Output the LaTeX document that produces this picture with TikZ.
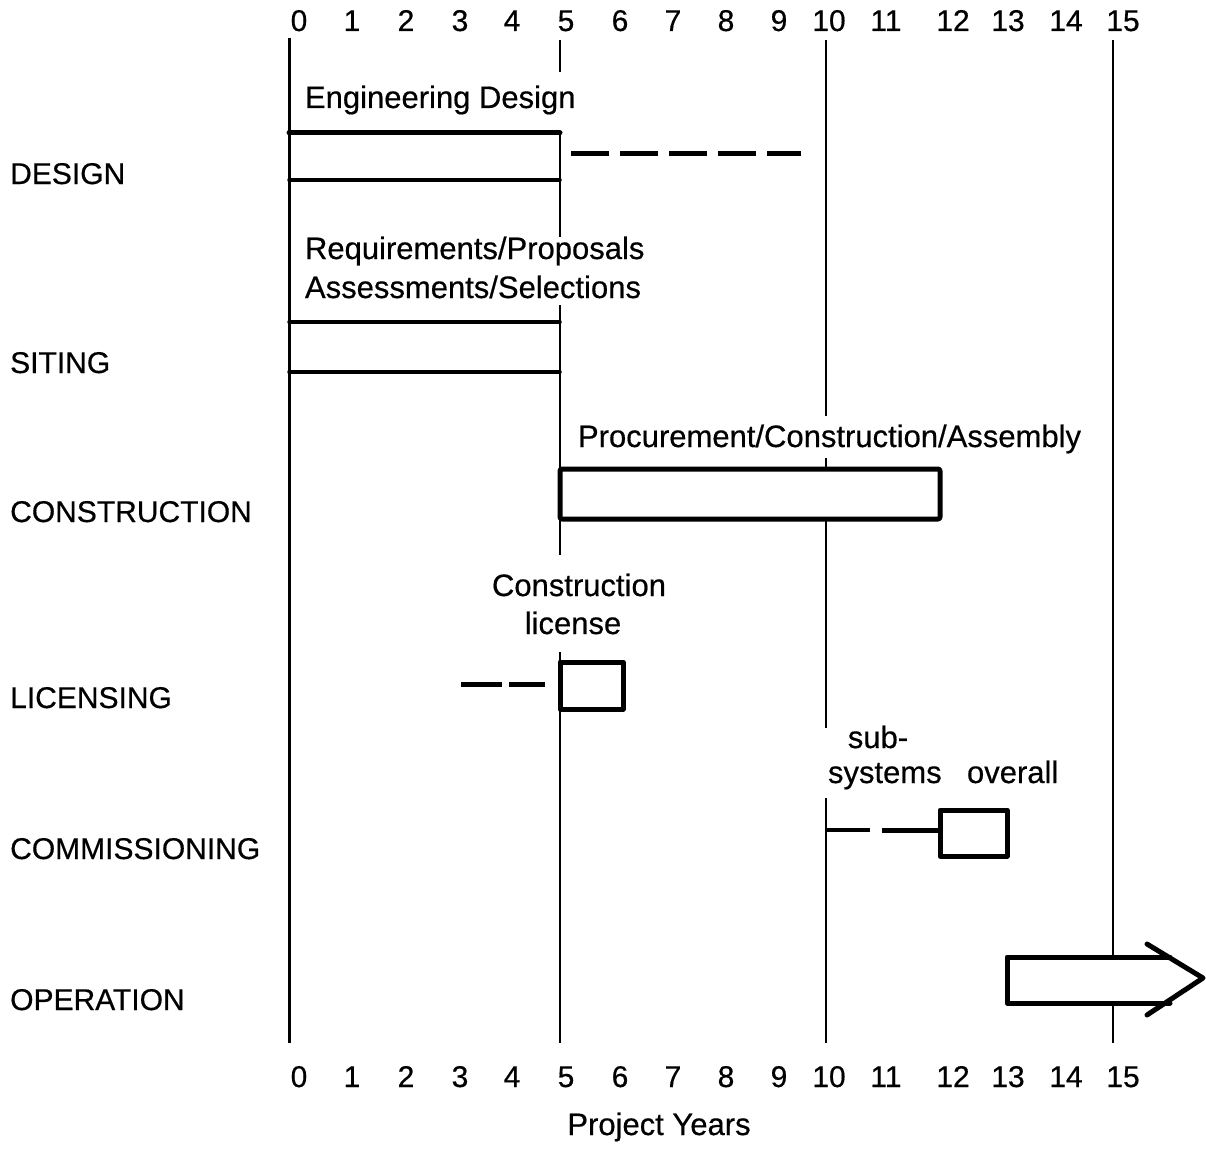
\documentclass[tikz,border=0pt]{standalone}
\usepackage{fontspec}
\setmainfont{Liberation Sans}[FakeBold=0.5]
\begin{document}
\begin{tikzpicture}[x=1pt,y=-1pt,
  txt/.style={inner sep=0pt,outer sep=0pt,font=\fontsize{31}{37}\selectfont},
  rowlabel/.style={inner sep=0pt,anchor=base west,font=\fontsize{30}{36}\selectfont},
  num/.style={inner sep=0pt,anchor=base,font=\fontsize{30}{36}\selectfont},
  yearline/.style={line width=#1},
  bar/.style={line width=5pt,line cap=round,line join=round},
  thinbar/.style={line width=3.5pt,line cap=round},
  dashbar/.style={line width=5pt,dash pattern=on 38pt off 11pt}]
\useasboundingbox (0,0) rectangle (1206,1169);
% year lines (gaps where labels cross them)
\coordinate (y0t) at (289,38);   \coordinate (y0b) at (289,1043);
\draw[yearline=3pt] (y0t) -- (y0b);
\coordinate (y5a) at (560,40);  \coordinate (y5b) at (560,72);
\coordinate (y5c) at (560,133); \coordinate (y5d) at (560,237);
\coordinate (y5e) at (560,305); \coordinate (y5f) at (560,555);
\coordinate (y5g) at (560,652); \coordinate (y5h) at (560,1043);
\draw[yearline=1.5pt] (y5a) -- (y5b) (y5c) -- (y5d) (y5e) -- (y5f) (y5g) -- (y5h);
\coordinate (y10a) at (826,40);  \coordinate (y10b) at (826,416);
\coordinate (y10c) at (826,458); \coordinate (y10d) at (826,728);
\coordinate (y10e) at (826,798); \coordinate (y10f) at (826,1043);
\draw[yearline=2pt] (y10a) -- (y10b) (y10c) -- (y10d) (y10e) -- (y10f);
\coordinate (y15t) at (1113,40); \coordinate (y15b) at (1113,1043);
\draw[yearline=2.5pt] (y15t) -- (y15b);
% axis numbers
\foreach \n/\x in {0/299,1/352,2/406,3/460,4/512,5/566,6/620,7/673,8/726,9/779,10/829,11/886,12/953,13/1008,14/1066,15/1123}{
  \node[num] (top\n) at (\x,31) {\n};
  \node[num] (bot\n) at (\x,1087) {\n};
}
\node[txt,anchor=base] (py) at (659,1135) {Project Years};
% row labels
\node[rowlabel] (lDesign) at (10,184) {DESIGN};
\node[rowlabel] (lSiting) at (10,373) {SITING};
\node[rowlabel] (lConstr) at (10,522) {CONSTRUCTION};
\node[rowlabel] (lLic) at (10,708) {LICENSING};
\node[rowlabel] (lComm) at (10,859) {COMMISSIONING};
\node[rowlabel] (lOp) at (10,1010) {OPERATION};
% DESIGN
\node[txt,anchor=base west] (tEng) at (305,108) {Engineering Design};
\coordinate (d1) at (289,133); \coordinate (d2) at (560,133);
\coordinate (d3) at (289,180); \coordinate (d4) at (560,180);
\draw[bar] (d1) -- (d2);
\draw[thinbar] (d3) -- (d4);
\coordinate (dd1) at (571,154); \coordinate (dd2) at (801,154);
\draw[dashbar] (dd1) -- (dd2);
% SITING
\node[txt,anchor=base west] (tReq) at (305,259) {Requirements/Proposals};
\node[txt,anchor=base west] (tAss) at (305,298) {Assessments/Selections};
\coordinate (s1) at (289,322); \coordinate (s2) at (560,322);
\coordinate (s3) at (289,372); \coordinate (s4) at (560,372);
\draw[thinbar] (s1) -- (s2);
\draw[thinbar] (s3) -- (s4);
% CONSTRUCTION
\node[txt,anchor=base west] (tProc) at (578,447) {Procurement/Construction/Assembly};
\coordinate (c1) at (560,469); \coordinate (c2) at (940,519);
\draw[bar,fill=white,rounded corners=2pt] (c1) rectangle (c2);
% LICENSING
\node[txt,anchor=base] (tCl1) at (579,596) {Construction};
\node[txt,anchor=base] (tCl2) at (573,634) {license};
\coordinate (l0) at (461,684); \coordinate (l1) at (545,684);
\draw[line width=5pt,dash pattern=on 41pt off 7pt] (l0) -- (l1);
\coordinate (lb1) at (560,662); \coordinate (lb2) at (623,709);
\draw[bar,fill=white] (lb1) rectangle (lb2);
% COMMISSIONING
\node[txt,anchor=base] (tSub) at (878,748) {sub-};
\node[txt,anchor=base west] (tSys) at (828,783) {systems};
\node[txt,anchor=base west] (tOv) at (967,783) {overall};
\coordinate (cm0) at (826,830); \coordinate (cm1) at (870,830);
\coordinate (cm2) at (882,830); \coordinate (cm3) at (940,830);
\draw[line width=4pt] (cm0) -- (cm1);
\draw[line width=5pt] (cm2) -- (cm3);
\coordinate (cb1) at (940,810); \coordinate (cb2) at (1007,856);
\draw[bar,fill=white] (cb1) rectangle (cb2);
% OPERATION arrow
\coordinate (o1) at (1007,957); \coordinate (o2) at (1170,957);
\coordinate (o3) at (1007,1003); \coordinate (o4) at (1170,1003);
\coordinate (ob1) at (1147,944); \coordinate (otip) at (1203,978);
\coordinate (ob2) at (1147,1015);
\fill[white] (o1) -- (o2) -- (otip) -- (o4) -- (o3) -- cycle;
\draw[bar] (o2) -- (o1) -- (o3) -- (o4);
\draw[bar] (ob1) -- (otip) -- (ob2);
\end{tikzpicture}
\end{document}
